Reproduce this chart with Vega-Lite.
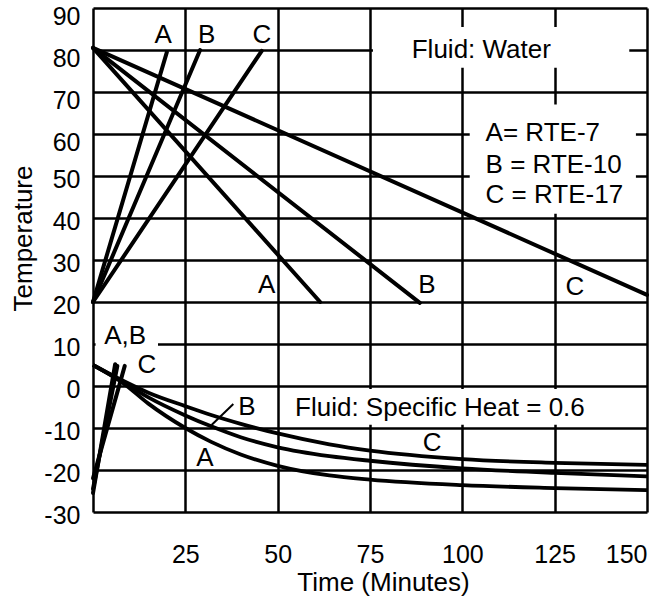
{
  "$schema": "https://vega.github.io/schema/vega-lite/v6.json",
  "width": 554,
  "height": 504,
  "autosize": "none",
  "padding": {"left": 93, "top": 8, "right": 25, "bottom": 88},
  "background": "white",
  "config": {
    "view": {"stroke": null},
    "font": "Liberation Sans",
    "axis": {
      "grid": true, "gridColor": "black", "gridWidth": 2.5, "gridOpacity": 1,
      "domain": false, "ticks": false,
      "labelFont": "Liberation Sans", "labelFontSize": 25, "labelColor": "black",
      "titleFont": "Liberation Sans", "titleFontSize": 26, "titleFontWeight": "normal", "titleColor": "black"
    }
  },
  "datasets": {
    "straight": [
      {"s": "WH-A", "x": 0, "y": 20}, {"s": "WH-A", "x": 20, "y": 79.5},
      {"s": "WH-B", "x": 0, "y": 20}, {"s": "WH-B", "x": 29, "y": 80},
      {"s": "WH-C", "x": 0, "y": 20}, {"s": "WH-C", "x": 45.7, "y": 79.8},
      {"s": "WC-A", "x": 0, "y": 80.5}, {"s": "WC-A", "x": 61.5, "y": 20},
      {"s": "WC-B", "x": 0, "y": 80.5}, {"s": "WC-B", "x": 88.5, "y": 19.8},
      {"s": "WC-C", "x": 0, "y": 80.5}, {"s": "WC-C", "x": 150, "y": 21.7},
      {"s": "SH-A", "x": 0, "y": -25.5}, {"s": "SH-A", "x": 6, "y": 5.2},
      {"s": "SH-B", "x": 0, "y": -24.5}, {"s": "SH-B", "x": 6.6, "y": 4.8},
      {"s": "SH-C", "x": 0, "y": -22}, {"s": "SH-C", "x": 8.6, "y": 4.8}
    ],
    "curves": [
      {"s": "C", "x": 0, "y": 5}, {"s": "C", "x": 8, "y": 1.3}, {"s": "C", "x": 15, "y": -1.6}, {"s": "C", "x": 25, "y": -4.8},
      {"s": "C", "x": 32, "y": -6.9}, {"s": "C", "x": 40, "y": -9.0}, {"s": "C", "x": 50, "y": -11.3}, {"s": "C", "x": 64, "y": -13.9},
      {"s": "C", "x": 75, "y": -15.4}, {"s": "C", "x": 100, "y": -17.4}, {"s": "C", "x": 125, "y": -18.3}, {"s": "C", "x": 150, "y": -18.8},
      {"s": "B", "x": 0, "y": 5}, {"s": "B", "x": 8, "y": 1}, {"s": "B", "x": 15, "y": -2.7}, {"s": "B", "x": 25, "y": -7},
      {"s": "B", "x": 32, "y": -9.6}, {"s": "B", "x": 40, "y": -12.2}, {"s": "B", "x": 50, "y": -14.6}, {"s": "B", "x": 64, "y": -16.7},
      {"s": "B", "x": 75, "y": -17.8}, {"s": "B", "x": 100, "y": -19.6}, {"s": "B", "x": 125, "y": -20.7}, {"s": "B", "x": 150, "y": -21.5},
      {"s": "A", "x": 0, "y": 5}, {"s": "A", "x": 8, "y": 0.8}, {"s": "A", "x": 15, "y": -4.2}, {"s": "A", "x": 25, "y": -10},
      {"s": "A", "x": 32, "y": -13.3}, {"s": "A", "x": 40, "y": -16.3}, {"s": "A", "x": 50, "y": -19}, {"s": "A", "x": 64, "y": -21.3},
      {"s": "A", "x": 75, "y": -22.3}, {"s": "A", "x": 100, "y": -23.6}, {"s": "A", "x": 125, "y": -24.3}, {"s": "A", "x": 150, "y": -24.8}
    ],
    "boxes": [
      {"x": 75.8, "x2": 145.2, "y": 75.8, "y2": 85.5},
      {"x": 102, "x2": 147, "y": 41, "y2": 67},
      {"x": 52.5, "x2": 140, "y": -9.2, "y2": -0.7},
      {"x": 0.7, "x2": 17.6, "y": 8.5, "y2": 11.5}
    ],
    "letters": [
      {"t": "A", "x": 19, "y": 83.6}, {"t": "B", "x": 30.8, "y": 83.6}, {"t": "C", "x": 45.7, "y": 83.6},
      {"t": "A", "x": 47, "y": 24}, {"t": "B", "x": 90.4, "y": 24}, {"t": "C", "x": 130.5, "y": 23.6},
      {"t": "A,B", "x": 8.7, "y": 12}, {"t": "C", "x": 14.6, "y": 5},
      {"t": "B", "x": 41.7, "y": -5}, {"t": "A", "x": 30.3, "y": -17.1}, {"t": "C", "x": 91.8, "y": -13.6}
    ],
    "notes": [
      {"t": "Fluid: Water", "x": 86.3, "y": 80},
      {"t": "A= RTE-7", "x": 106.3, "y": 60.2},
      {"t": "B = RTE-10", "x": 106.3, "y": 52.6},
      {"t": "C = RTE-17", "x": 106.3, "y": 45.5},
      {"t": "Fluid: Specific Heat = 0.6", "x": 54.7, "y": -5.2}
    ],
    "leader": [{"x": 38, "y": -4.3, "x2": 32.1, "y2": -9.3}]
  },
  "encoding": {
    "x": {"field": "x", "type": "quantitative", "scale": {"domain": [0, 150], "nice": false, "zero": false},
      "axis": {"values": [0, 25, 50, 75, 100, 125, 150], "labelExpr": "datum.value == 0 ? '' : toString(datum.value)",
        "title": "Time (Minutes)", "labelPadding": 30, "titleX": 290, "titleY": 70, "titleBaseline": "middle"}},
    "y": {"field": "y", "type": "quantitative", "scale": {"domain": [-30, 90], "nice": false, "zero": false},
      "axis": {"values": [-30, -20, -10, 0, 10, 20, 30, 40, 50, 60, 70, 80, 90], "title": "Temperature",
        "labelExpr": "toString(datum.value)",
        "labelPadding": 13, "titlePadding": 7, "titleY": 230,
        "labelOffset": {"condition": {"test": "datum.value >= 60", "value": 8}, "value": 3}}}
  },
  "layer": [
    {
      "data": {"name": "boxes"},
      "mark": {"type": "rect", "fill": "white", "stroke": null},
      "encoding": {"x2": {"field": "x2"}, "y2": {"field": "y2"}}
    },
    {
      "data": {"name": "straight"},
      "mark": {"type": "line", "color": "black", "strokeWidth": 4, "strokeCap": "round"},
      "encoding": {"detail": {"field": "s"}}
    },
    {
      "data": {"name": "curves"},
      "mark": {"type": "line", "color": "black", "strokeWidth": 3.8, "interpolate": "monotone"},
      "encoding": {"detail": {"field": "s"}}
    },
    {
      "data": {"name": "leader"},
      "mark": {"type": "rule", "color": "black", "strokeWidth": 2},
      "encoding": {"x2": {"field": "x2"}, "y2": {"field": "y2"}}
    },
    {
      "data": {"name": "letters"},
      "mark": {"type": "text", "font": "Liberation Sans", "fontSize": 26, "color": "black", "align": "center", "baseline": "middle"},
      "encoding": {"text": {"field": "t"}}
    },
    {
      "data": {"name": "notes"},
      "mark": {"type": "text", "font": "Liberation Sans", "fontSize": 26, "color": "black", "align": "left", "baseline": "middle"},
      "encoding": {"text": {"field": "t"}}
    }
  ]
}
